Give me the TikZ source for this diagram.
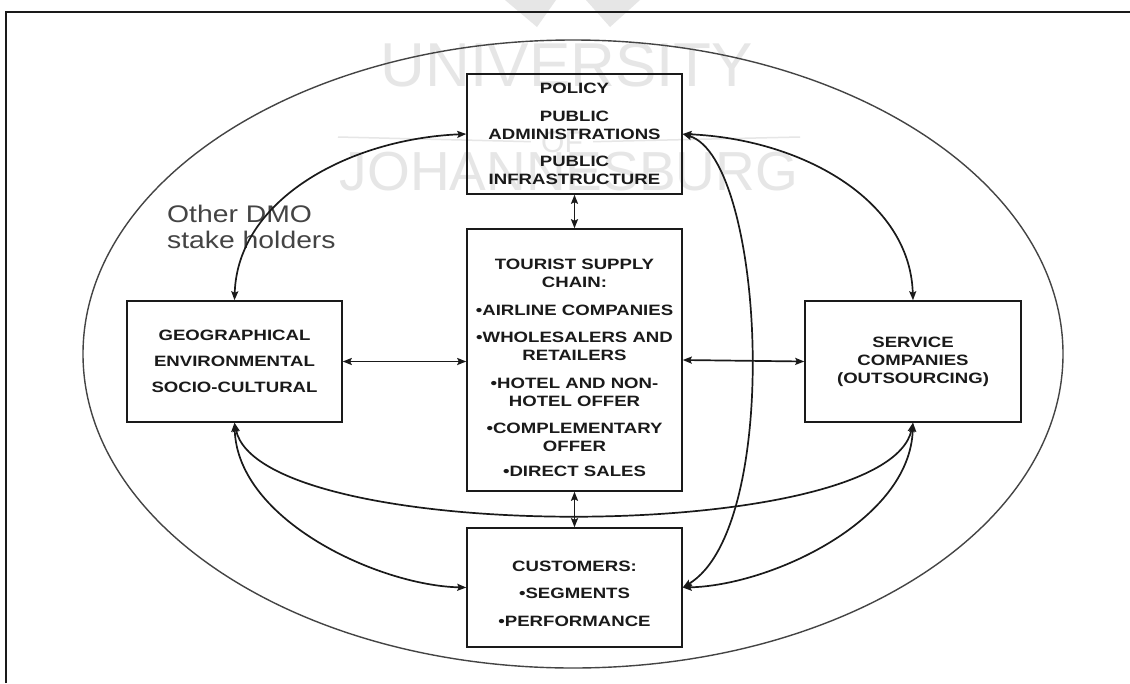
\documentclass[tikz,border=0pt]{standalone}
\usepackage{fontspec}
\setmainfont{Liberation Sans}
\newfontfamily\boxfont{Liberation Sans}[FakeStretch=1.24]
\newfontfamily\dmofont{Liberation Sans}[FakeStretch=1.18]
\usetikzlibrary{arrows.meta,shapes.geometric,calc}
\definecolor{inkc}{HTML}{1A1A1A}
\definecolor{wmark}{HTML}{E6E6E6}
\definecolor{ringc}{HTML}{444444}
\begin{document}
\begin{tikzpicture}[x=1pt,y=-1pt,
  box/.style={draw=inkc, line width=1.5pt, inner sep=0pt, align=center,
    minimum width=215pt, text=inkc,
    font=\boxfont\bfseries\fontsize{15}{18}\selectfont},
  link/.style={line width=1.7pt, draw=inkc,
    {Stealth[length=9pt,width=7pt,inset=1.5pt]}-{Stealth[length=9pt,width=7pt,inset=1.5pt]}},
  wm/.style={text=wmark, inner sep=0pt, font=\fontsize{#1}{#1}\selectfont}
]
\useasboundingbox (0,0) rectangle (1130,683);
\fill[white] (0,0) rectangle (1130,683);

% watermark
\fill[wmark] (505,0) -- (556,0) -- (537,27) -- cycle;
\fill[wmark] (586,0) -- (640,0) -- (610,27) -- cycle;
\node[wm=62, anchor=base] (wmU) at (567,86) {UNIVERSITY};
\node[wm=30, anchor=base] (wmO) at (562,152) {OF};
\node[wm=55, anchor=base] (wmJ) at (569,190) {JOHANNESBURG};
\draw[wmark, line width=1.5pt] (338,137) -- ($(wmO.west)+(-10,0)$);
\draw[wmark, line width=1.5pt] ($(wmO.east)+(10,0)$) -- (800,137);

% frame
\draw[inkc, line width=2.4pt] (6,683) -- (6,12) -- (1130,12);

% stakeholder ring
\node[ellipse, draw=ringc, line width=1.4pt, minimum width=980pt,
  minimum height=628pt, inner sep=0pt] (dmo) at (573,354) {};
\node[anchor=north west, inner sep=0pt, align=left, text=ringc,
  font=\dmofont\fontsize{24}{26}\selectfont] (dmotext) at (167,205)
  {Other DMO\\stake holders};

% boxes
\node[box, minimum height=120pt] (policy) at (574.5,134)
  {POLICY\\[9.5pt]PUBLIC\\ADMINISTRATIONS\\[9.5pt]PUBLIC\\INFRASTRUCTURE};
\node[box, minimum height=262pt] (supply) at (574.5,360)
  {\rule{0pt}{27pt}TOURIST SUPPLY\\CHAIN:\\[9.5pt]•AIRLINE COMPANIES\\[9.5pt]•WHOLESALERS AND\\RETAILERS\\[9.5pt]•HOTEL AND NON-\\HOTEL OFFER\\[9.5pt]•COMPLEMENTARY\\OFFER\\[7pt]•DIRECT SALES};
\node[box, minimum height=121pt,
  font=\boxfont\bfseries\fontsize{15}{26}\selectfont] (geo) at (234.5,361.5)
  {GEOGRAPHICAL\\ENVIRONMENTAL\\SOCIO-CULTURAL};
\node[box, minimum height=121pt, minimum width=216pt] (service) at (913,361.5)
  {SERVICE\\COMPANIES\\(OUTSOURCING)};
\node[box, minimum height=119pt] (cust) at (574.5,587.5)
  {\rule{0pt}{23pt}CUSTOMERS:\\[9.5pt]•SEGMENTS\\[9.5pt]•PERFORMANCE};

% connectors
\draw[link] (policy.south) -- (supply.north);
\draw[link] (supply.south) -- (cust.north);
\draw[link] (geo.east) -- (geo.east -| supply.west);
\draw[link] (supply.east) -- (service.west);
\draw[link] (policy.west) .. controls +(-117,5) and +(3,-101) .. (geo.north);
\draw[link] (policy.east) .. controls +(118,5) and +(-3,-101) .. (service.north);
\draw[link] (policy.east) .. controls +(82,25) and +(100,-60) .. (cust.east);
\draw[link] (geo.south) .. controls +(25,123) and +(-25,123) .. (service.south);
\draw[link] (geo.south) .. controls +(3,98) and +(-87,-2) .. (cust.west);
\draw[link] (service.south) .. controls +(-3,98) and +(88,-2) .. (cust.east);
\end{tikzpicture}
\end{document}
